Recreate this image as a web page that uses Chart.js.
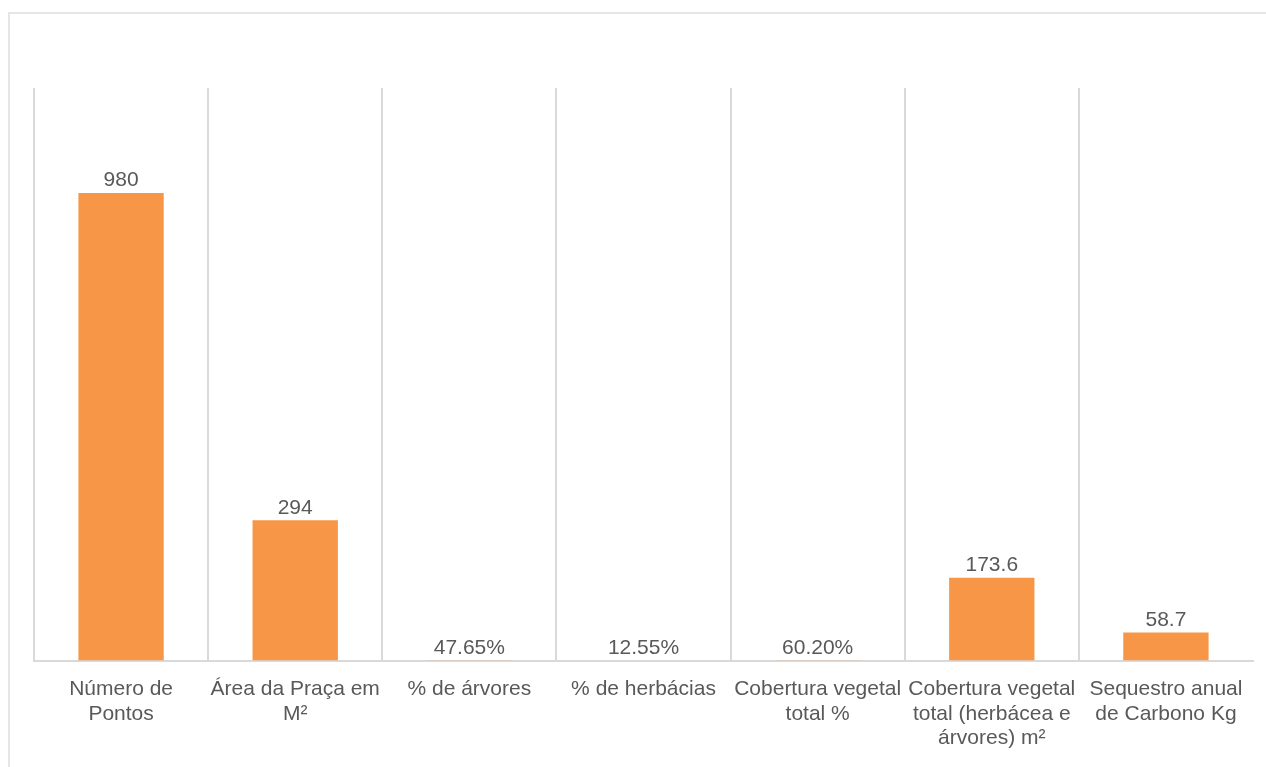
<!DOCTYPE html>
<html lang="pt">
<head>
	<meta charset="UTF-8">
	<title>Indicadores da Praça</title>
	<script src="https://cdn.jsdelivr.net/npm/chart.js@4.4.0/dist/chart.umd.min.js"></script>
	<style>
		* {
			box-sizing: border-box;
		}

		html, body {
			margin: 0;
			padding: 0;
			width: 100%;
			height: 100%;
			overflow: hidden;
			background: #ffffff;
		}

		#frame {
			position: absolute;
			left: 8px;
			top: 12px;
			width: 1400px;
			height: 900px;
			border: 2px solid #e6e6e6;
		}

		#canvasContainer {
			position: absolute;
			left: 0;
			top: 0;
			width: 1266px;
			height: 767px;
		}
	</style>
</head>

<body>
	<div id="frame"></div>
	<div id="canvasContainer">
		<canvas id="chart"></canvas>
	</div>

	<script>
		const categories = [
			["Número de", "Pontos"],
			["Área da Praça em", "M²"],
			["% de árvores"],
			["% de herbácias"],
			["Cobertura vegetal", "total %"],
			["Cobertura vegetal", "total (herbácea e", "árvores) m²"],
			["Sequestro anual", "de Carbono Kg"]
		];

		// percentages are stored as fractions (0.4765 = 47.65%)
		const values = [980, 294, 0.4765, 0.1255, 0.602, 173.6, 58.7];
		const isPercent = [false, false, true, true, true, false, false];

		const barColor = "#f79646";
		const textColor = "#595959";
		const gridColor = "#d9d9d9";
		const fontFamily = "'Liberation Sans', Arial, sans-serif";

		function formatValue(i) {
			const v = values[i];
			if (isPercent[i]) return (v * 100).toFixed(2) + "%";
			return String(v);
		}

		// value labels above each bar
		const valueLabels = {
			id: "valueLabels",
			afterDatasetsDraw(chart) {
				const ctx = chart.ctx;
				const meta = chart.getDatasetMeta(0);
				ctx.save();
				ctx.font = "21px " + fontFamily;
				ctx.fillStyle = textColor;
				ctx.textAlign = "center";
				ctx.textBaseline = "bottom";
				meta.data.forEach((bar, i) => {
					ctx.fillText(formatValue(i), bar.x, bar.y - 2);
				});
				ctx.restore();
			}
		};

		const ctx = document.getElementById("chart").getContext("2d");

		const config = {
			type: "bar",
			data: {
				labels: categories,
				datasets: [{
					data: values,
					backgroundColor: barColor,
					borderWidth: 0,
					categoryPercentage: 1,
					barPercentage: 0.49
				}]
			},
			plugins: [valueLabels],
			options: {
				responsive: true,
				maintainAspectRatio: false,
				animation: false,
				layout: {
					padding: { top: 88, right: 13, bottom: 0, left: 34 }
				},
				plugins: {
					legend: { display: false },
					tooltip: { enabled: false }
				},
				scales: {
					x: {
						offset: true,
						grid: {
							offset: true,
							drawTicks: false,
							lineWidth: 2,
							// no separator after the last category
							color: (c) => c.tick ? gridColor : "rgba(0,0,0,0)"
						},
						border: { display: true, color: gridColor, width: 2 },
						ticks: {
							autoSkip: false,
							maxRotation: 0,
							minRotation: 0,
							padding: 17,
							color: textColor,
							font: { family: fontFamily, size: 21, lineHeight: 1.15 }
						}
					},
					y: {
						display: false,
						min: 0,
						max: 1200
					}
				}
			}
		};

		const chart = new Chart(ctx, config);
	</script>
</body>
</html>
